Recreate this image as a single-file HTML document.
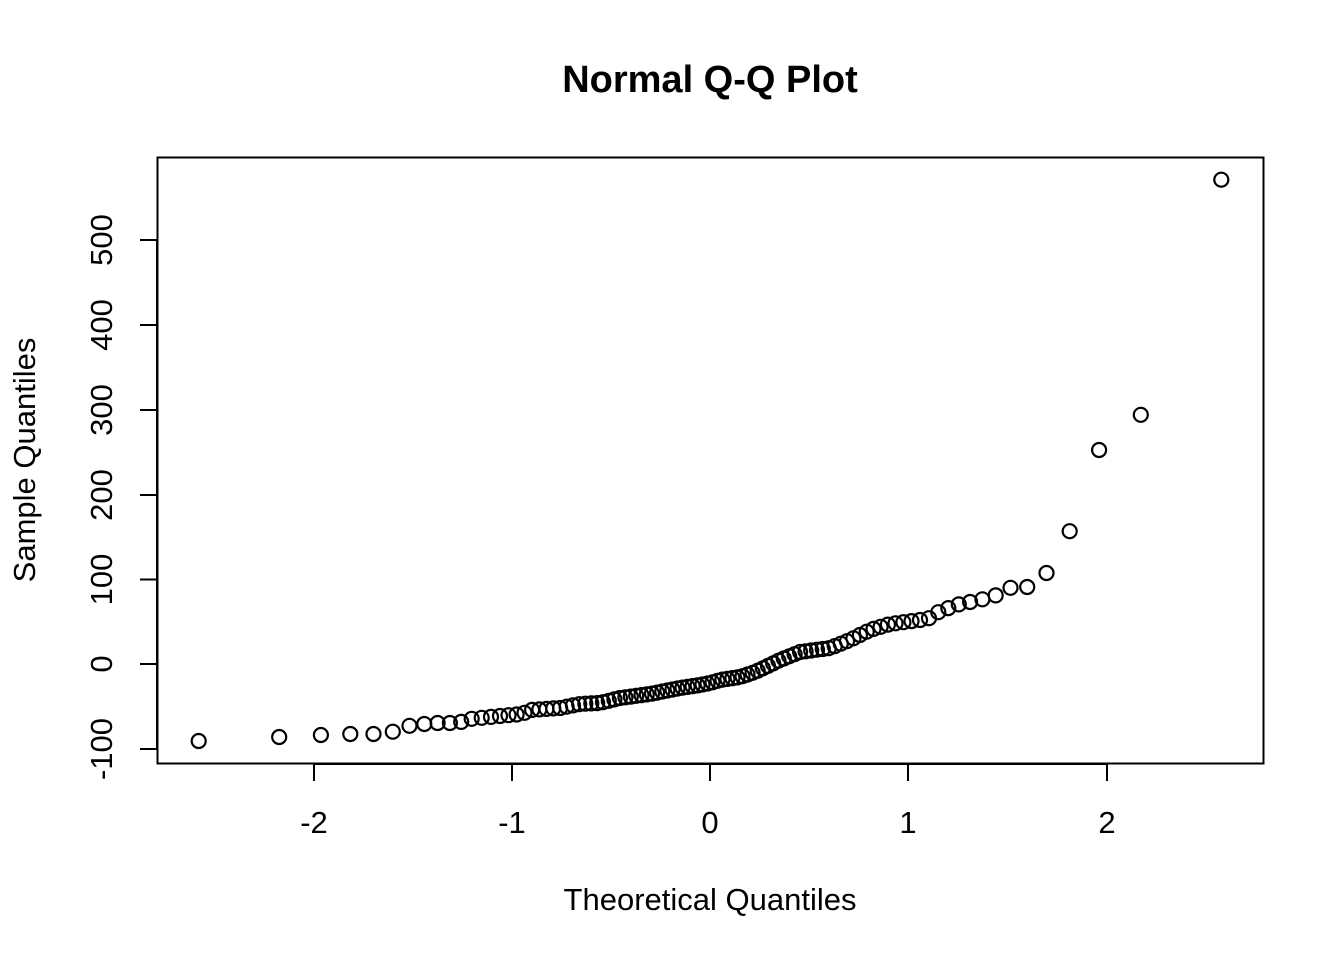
<!DOCTYPE html>
<html><head><meta charset="utf-8"><style>body{margin:0;background:#fff}svg{display:block}text{font-family:"Liberation Sans",Arial,sans-serif;fill:#000}</style></head>
<body>
<svg id="s" width="1344" height="960" xmlns="http://www.w3.org/2000/svg">
<text x="710" y="92" font-size="38" font-weight="bold" text-anchor="middle">Normal Q-Q Plot</text>
<rect x="157.5" y="157.5" width="1106" height="606" fill="none" stroke="#000" stroke-width="2"/>
<g stroke="#000" stroke-width="2">
<line x1="314" y1="764" x2="314" y2="781"/><line x1="512" y1="764" x2="512" y2="781"/><line x1="710" y1="764" x2="710" y2="781"/><line x1="908" y1="764" x2="908" y2="781"/><line x1="1107" y1="764" x2="1107" y2="781"/>
<line x1="314" y1="764" x2="1107" y2="764"/>
<line x1="157" y1="749" x2="140" y2="749"/><line x1="157" y1="664" x2="140" y2="664"/><line x1="157" y1="579.5" x2="140" y2="579.5"/><line x1="157" y1="495" x2="140" y2="495"/><line x1="157" y1="410" x2="140" y2="410"/><line x1="157" y1="325" x2="140" y2="325"/><line x1="157" y1="240" x2="140" y2="240"/>
<line x1="157" y1="749" x2="157" y2="240"/>
</g>
<g font-size="31" text-anchor="middle">
<text x="314" y="833">-2</text><text x="512" y="833">-1</text><text x="710" y="833">0</text><text x="908" y="833">1</text><text x="1107" y="833">2</text>
<text x="710" y="910">Theoretical Quantiles</text>
</g>
<g font-size="31" text-anchor="middle">
<text transform="translate(112,749) rotate(-90)">-100</text>
<text transform="translate(112,664) rotate(-90)">0</text>
<text transform="translate(112,579.5) rotate(-90)">100</text>
<text transform="translate(112,495) rotate(-90)">200</text>
<text transform="translate(112,410) rotate(-90)">300</text>
<text transform="translate(112,325) rotate(-90)">400</text>
<text transform="translate(112,240) rotate(-90)">500</text>
<text transform="translate(35,460) rotate(-90)">Sample Quantiles</text>
</g>
<g id="pts" fill="none" stroke="#000" stroke-width="2.2"></g>
</svg>
<script>
function qn(p){var a=[-39.6968302866538,220.946098424521,-275.928510446969,138.357751867269,-30.6647980661472,2.50662827745924],b=[-54.4760987982241,161.585836858041,-155.698979859887,66.8013118877197,-13.2806815528857],c=[-0.00778489400243029,-0.322396458041136,-2.40075827716184,-2.54973253934373,4.37466414146497,2.93816398269878],d=[0.00778469570904146,0.32246712907004,2.445134137143,3.75440866190742],q,r;
if(p<0.02425){q=Math.sqrt(-2*Math.log(p));return(((((c[0]*q+c[1])*q+c[2])*q+c[3])*q+c[4])*q+c[5])/((((d[0]*q+d[1])*q+d[2])*q+d[3])*q+1);}
if(p>1-0.02425){q=Math.sqrt(-2*Math.log(1-p));return-(((((c[0]*q+c[1])*q+c[2])*q+c[3])*q+c[4])*q+c[5])/((((d[0]*q+d[1])*q+d[2])*q+d[3])*q+1);}
q=p-0.5;r=q*q;return(((((a[0]*r+a[1])*r+a[2])*r+a[3])*r+a[4])*r+a[5])*q/(((((b[0]*r+b[1])*r+b[2])*r+b[3])*r+b[4])*r+1);}
var A=[[190,741],[198,741],[279,737],[320,735],[349,734],[373,734],[392,732],[408,726],[424,724],[437,723],[450,723],[461,722],[470,719],[500,716],[522,714],[530,710],[560,708],[580,704],[600,703],[620,698],[650,694],[680,688],[700,685],[710,683],[720,680],[740,677],[755,672],[770,665],[780,660],[800,652],[830,648],[850,640],[870,630],[890,624],[920,620],[930,618],[940,611],[960,604],[980,600],[997,595],[1012,587],[1028,587],[1046,574],[1069,533],[1099,450],[1140,417],[1221,180],[1230,170]];
function iy(x){for(var i=0;i<A.length-1;i++){if(x>=A[i][0]&&x<=A[i+1][0]){var t=(x-A[i][0])/(A[i+1][0]-A[i][0]);return A[i][1]+t*(A[i+1][1]-A[i][1]);}}return 700;}
var g=document.getElementById('pts'),h='';
for(var i=1;i<=100;i++){var x=710+qn((i-0.5)/100)*198.5;h+='<circle cx="'+x.toFixed(1)+'" cy="'+iy(x).toFixed(1)+'" r="7"/>';}
g.innerHTML=h;
</script>
</body></html>
